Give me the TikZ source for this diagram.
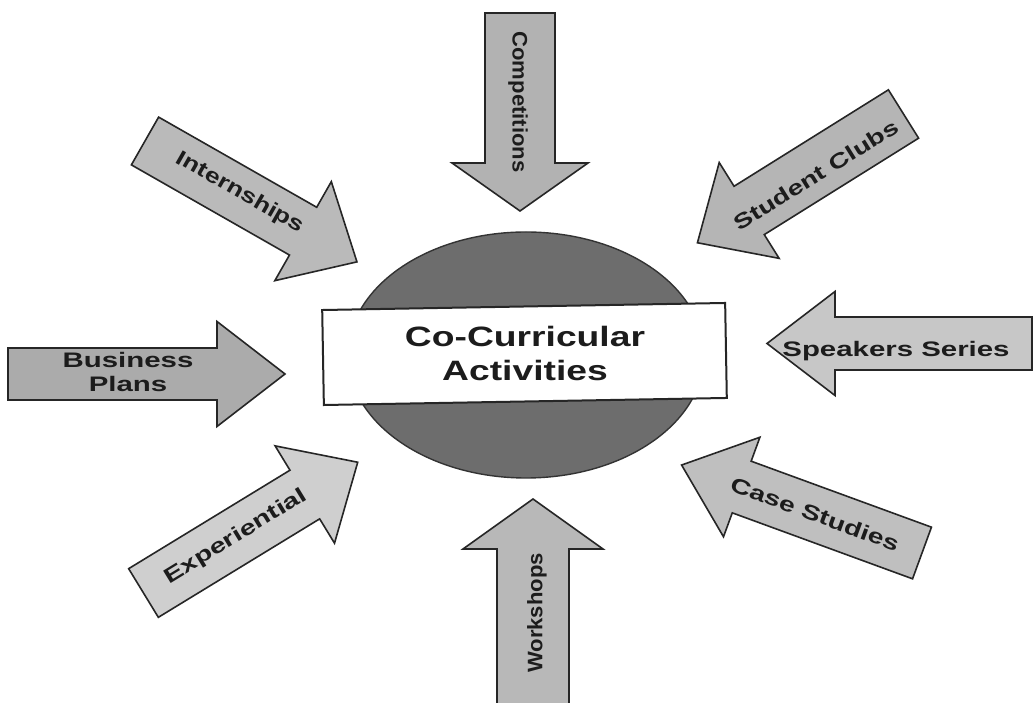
\documentclass[tikz,border=0pt]{standalone}
\usepackage{fontspec}
\setmainfont{Liberation Sans}
\usetikzlibrary{calc,shapes.geometric}
\definecolor{ellgray}{HTML}{6D6D6D}
\definecolor{txtdark}{HTML}{1C1C1C}
% #1 name, #2 tail x, #3 tail y, #4 angle, #5 length, #6 body width, #7 head width, #8 head length, #9 fill
\newcommand\fatarrow[9]{%
  \begin{scope}[shift={(#2,#3)}, rotate=#4]
    \pgfmathsetmacro\hbw{#6/2}%
    \pgfmathsetmacro\hhw{#7/2}%
    \pgfmathsetmacro\hbl{#5-#8}%
    \draw[arrowbody, fill=#9] (0,-\hbw) -- (\hbl,-\hbw) -- (\hbl,-\hhw) -- (#5,0)
      -- (\hbl,\hhw) -- (\hbl,\hbw) -- (0,\hbw) -- cycle;
    \coordinate (#1) at (#5,0);
  \end{scope}}
\begin{document}
\begin{tikzpicture}[x=1pt,y=1pt,
  arrowbody/.style={draw=black!85, line width=1.6pt, line join=miter},
  lab/.style={font=\bfseries\fontsize{21}{24}\selectfont\addfontfeatures{FakeStretch=#1}, text=txtdark, inner sep=0pt, align=center},
  centerlab/.style={font=\bfseries\fontsize{28}{34}\selectfont\addfontfeatures{FakeStretch=1.33}, text=txtdark, align=center, inner sep=0pt}]
\useasboundingbox (0,0) rectangle (1035,703);
\fill[white] (0,0) rectangle (1035,703);

% central ellipse and box
\node[draw=black!80, line width=1.4pt, fill=ellgray, ellipse, minimum width=356pt, minimum height=246pt, inner sep=0pt] (ell) at (526,348) {};
\node[draw=black!85, line width=2pt, fill=white, minimum width=403pt, minimum height=95pt, rotate=1, inner sep=0pt] (box) at (524.5,349) {};
\node[centerlab] (title) at (525,350) {Co-Curricular\\Activities};

% arrows
\fatarrow{tipbusiness}{8}{329}{0}{277}{52}{105}{68}{black!33}
\fatarrow{tipcompetitions}{520}{690}{-90}{198}{70}{136}{48}{black!30}
\fatarrow{tipworkshops}{533}{-6}{90}{210}{72}{140}{50}{black!28}
\fatarrow{tipspeakers}{1032}{359.5}{180}{265}{53}{104}{68}{black!22}
\fatarrow{tipinternships}{145}{562}{-29.7}{244}{55}{114}{62}{black!27}
\fatarrow{tipclubs}{903.5}{589}{-148}{243}{57}{113}{61}{black!29}
\fatarrow{tipcase}{922}{150}{159.9}{256}{55}{106}{64}{black!25}
\fatarrow{tipexperiential}{143.5}{110}{31.4}{251}{57}{114}{62}{black!19}

% labels
\node[lab=1.4] (business) at (128,331) {Business\\Plans};
\node[lab=1.05, rotate=-90] (competitions) at (518,601) {Competitions};
\node[lab=1.05, rotate=90] (workshops) at (537,90) {Workshops};
\node[lab=1.4] (speakers) at (896,352) {Speakers Series};
\node[lab=1.27, rotate=-29.7] (internships) at (240,510) {Internships};
\node[lab=1.33, rotate=32] (clubs) at (816,528) {Student Clubs};
\node[lab=1.35, rotate=-20.1] (case) at (815,189) {Case Studies};
\node[lab=1.37, rotate=31.4] (experiential) at (236,166) {Experiential};
\end{tikzpicture}
\end{document}
